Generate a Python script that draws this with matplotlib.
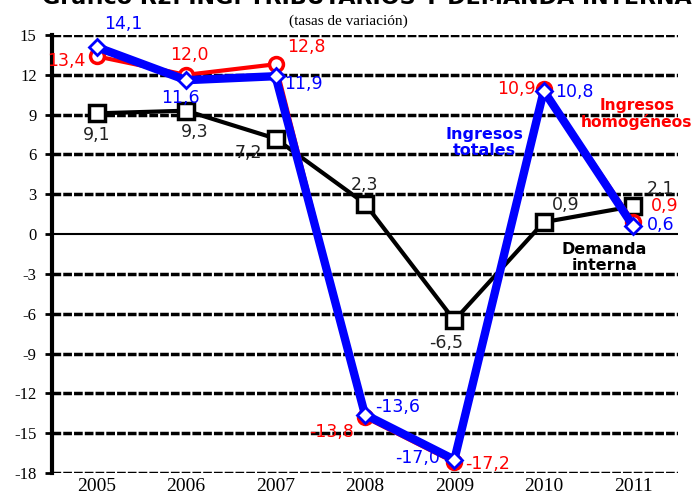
import matplotlib.pyplot as plt
import numpy as np

# datos
years = ['2005', '2006', '2007', '2008', '2009', '2010', '2011']
totales = [14.1, 11.6, 11.9, -13.6, -17.0, 10.8, 0.6]
homogeneos = [13.4, 12.0, 12.8, -13.8, -17.2, 10.9, 0.9]
demanda = [9.1, 9.3, 7.2, 2.3, -6.5, 0.9, 2.1]
yticks = list(range(-18, 16, 3))

fig = plt.figure(figsize=(6.96, 5.01), dpi=100)
ax = fig.add_axes([0.0747, 0.056, 0.8993, 0.874])
x = np.arange(len(years))

for t in yticks:
    if t == 0:
        ax.axhline(t, color='black', lw=1.5, zorder=1)
    else:
        ax.axhline(t, color='black', lw=2.5, ls=(0, (2.5, 0.6)), zorder=1)

ax.plot(x, demanda, color='black', lw=3, marker='s', ms=11, mfc='white',
        mec='black', mew=2.5, zorder=3)
ax.plot(x, homogeneos, color='red', lw=3, marker='o', ms=10, mfc='white',
        mec='red', mew=2.5, zorder=4)
ax.plot(x, totales, color='blue', lw=6, marker='D', ms=8, mfc='white',
        mec='blue', mew=2, zorder=5)

def fmt(v):
    return ('%.1f' % v).replace('.', ',')

# offsets de etiquetas (puntos)
off_t = [(5, 10, 'left'), (-4, -19, 'center'), (6, -12, 'left'), (7, -1, 'left'),
         (-10, -5, 'right'), (8, -7, 'left'), (10, -6, 'left')]
off_h = [(-8, -10, 'right'), (2, 8, 'center'), (8, 6, 'left'), (-8, -17, 'right'),
         (8, -8, 'left'), (-6, -6, 'right'), (13, 5, 'left')]
off_d = [(0, -22, 'center'), (6, -22, 'center'), (-10, -17, 'right'), (0, 7, 'center'),
         (-6, -23, 'center'), (6, 6, 'left'), (10, 6, 'left')]

for i in range(len(years)):
    for vals, offs, col in ((totales, off_t, 'blue'), (homogeneos, off_h, 'red'),
                            (demanda, off_d, '#222222')):
        dx, dy, ha = offs[i]
        ax.annotate(fmt(vals[i]), (x[i], vals[i]), xytext=(dx, dy),
                    textcoords='offset points', ha=ha, va='bottom',
                    color=col, fontsize=12.5, family='DejaVu Sans', zorder=6)

ax.text(4.34, 6.9, 'Ingresos\ntotales', color='blue', fontsize=11.5, fontweight='bold',
        ha='center', va='center', linespacing=1.05)
ax.text(6.04, 9.05, 'Ingresos\nhomogéneos', color='red', fontsize=11.2, fontweight='bold',
        ha='center', va='center', linespacing=1.05)
ax.text(5.68, -1.75, 'Demanda\ninterna', color='black', fontsize=11.5, fontweight='bold',
        ha='center', va='center', linespacing=1.05)

ax.set_xlim(-0.5, 6.5)
ax.set_ylim(-18, 15)
ax.set_yticks(yticks)
ax.set_yticklabels([str(t) for t in yticks], family='Liberation Serif', fontsize=12)
ax.set_xticks(x)
ax.set_xticklabels(years, family='Liberation Serif', fontsize=14)
ax.tick_params(axis='x', length=0, pad=4)
ax.tick_params(axis='y', length=5, width=2, direction='out', pad=6)
for s in ['top', 'right', 'bottom']:
    ax.spines[s].set_visible(False)
ax.spines['left'].set_linewidth(3)

fig.text(0.527, 1.003, 'Gráfico R2. ING. TRIBUTARIOS Y DEMANDA INTERNA', ha='center',
         va='center', fontsize=16, fontweight='bold', family='DejaVu Sans')
fig.text(0.5, 0.958, '(tasas de variación)', ha='center', va='center', fontsize=11,
         family='Liberation Serif')

fig.savefig('out.png', dpi=100)
